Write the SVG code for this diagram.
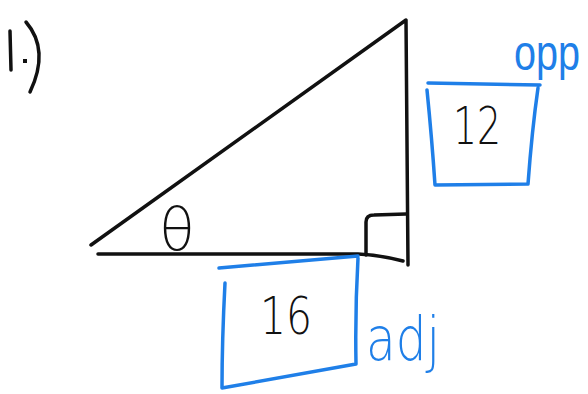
<svg xmlns="http://www.w3.org/2000/svg" width="588" height="394" viewBox="0 0 588 394">
<style>
.k{fill:none;stroke:#111;stroke-width:3.5;stroke-linecap:round;stroke-linejoin:round}
.b{fill:none;stroke:#1f7fe8;stroke-width:3.5;stroke-linecap:round;stroke-linejoin:round}
.tk{font-family:"DejaVu Sans","Liberation Sans",sans-serif;fill:#111;font-weight:300}
.tb{font-family:"DejaVu Sans","Liberation Sans",sans-serif;fill:#1f7fe8;font-weight:300}
</style>
<rect width="588" height="394" fill="#fff"/>
<g id="label-1">
<path class="k" d="M10 31 L11 70"/>
<rect x="23" y="59" width="4" height="4" fill="#111"/>
<path class="k" d="M26 22 Q50 50 30 92"/>
</g>
<g id="triangle">
<path class="k" d="M91 245 L406 20 L408 265"/>
<path class="k" d="M98 254 L358 254 Q380 255 403 261"/>
<path class="k" d="M366 255 L366 222 Q366 215 374 215 L406 214"/>
</g>
<g id="theta">
<text class="tk" x="177" y="250" font-size="58" text-anchor="middle">θ</text>
</g>
<g id="opp-box">
<path class="b" d="M428 83 L540 85 M427 90 Q432 140 435 185 L528 184 Q532 130 538 88"/>
<text class="tk" x="453" y="144" font-size="52" textLength="48" lengthAdjust="spacingAndGlyphs">12</text>
<text class="tb" transform="translate(514 70) scale(0.9 1.15)" x="0" y="0" font-size="44" style="font-family:'Liberation Sans',sans-serif;font-weight:normal">opp</text>
</g>
<g id="adj-box">
<path class="b" d="M219 268 L358 256 M225 283 Q222 340 222 388 L356 364 Q355 310 358 258"/>
<text class="tk" x="260" y="334" font-size="52" textLength="52" lengthAdjust="spacingAndGlyphs">16</text>
<text class="tb" x="366" y="360" font-size="60" textLength="74" lengthAdjust="spacingAndGlyphs">adj</text>
</g>
</svg>
